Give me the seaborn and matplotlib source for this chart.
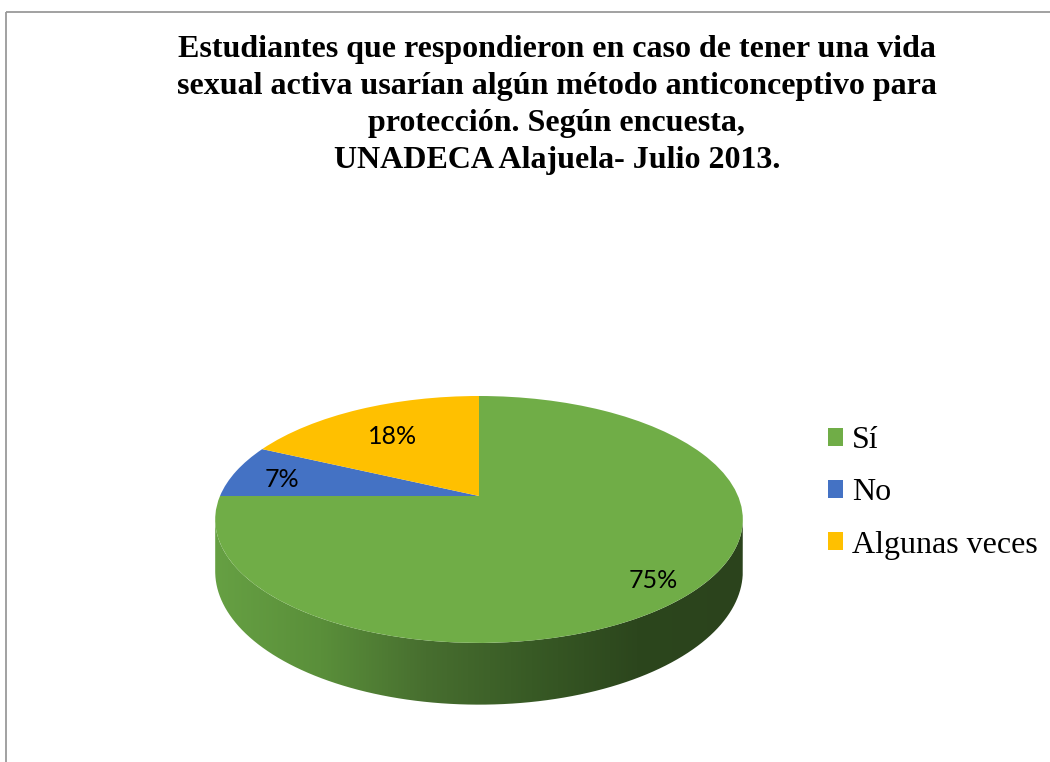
import numpy as np
import matplotlib
matplotlib.use("Agg")
import matplotlib.pyplot as plt
import matplotlib.transforms as mtransforms
from matplotlib.path import Path
from matplotlib.patches import PathPatch, Rectangle
from matplotlib.colors import LinearSegmentedColormap
import seaborn as sns

# ---- data -------------------------------------------------------------
categories = ["Sí", "No", "Algunas veces"]
percentages = [75, 7, 18]
slice_colors = ["#70AD47", "#4472C4", "#FFC000"]
title_text = ("Estudiantes que respondieron en caso de tener una vida\n"
              "sexual activa usarían algún método anticonceptivo para\n"
              "protección. Según encuesta,\n"
              "UNADECA Alajuela- Julio 2013.")

# radial placement of each percentage label (fraction of the radius)
label_radius = [0.84, 0.80, 0.69]

# ---- style ------------------------------------------------------------
sns.set_theme(style="white")
plt.rcParams["font.family"] = ["Liberation Serif", "DejaVu Serif"]
plt.rcParams["text.color"] = "black"

W, H = 1050, 762
fig = plt.figure(figsize=(W / 100, H / 100), dpi=100)
ax = fig.add_axes([0, 0, 1, 1])


class TiltTransform(mtransforms.Transform):
    """Perspective tilt of the unit pie: far side (v>0) shrinks, near side grows."""
    input_dims = 2
    output_dims = 2

    def __init__(self, k):
        super().__init__()
        self.k = k

    def transform_non_affine(self, values):
        values = np.asarray(values, dtype=float)
        u, v = values[..., 0], values[..., 1]
        s = 1.0 / (1.0 + self.k * v)
        return np.stack([u * s, v * s], axis=-1)


# pie geometry in pixel space (y grows downward)
K = 0.19
CX, CY = 479.0, 496.0
RX, RY = 259.0, 119.0
DEPTH = 50.0

tilt = TiltTransform(K)
to_pixels = mtransforms.Affine2D().scale(RX, -RY).translate(CX, CY)

# ---- pie top face ----------------------------------------------------
wedges, _, autotexts = ax.pie(
    percentages,
    colors=slice_colors,
    startangle=90,
    counterclock=False,
    autopct=lambda p: f"{p:.0f}%",
    pctdistance=0.77,
    wedgeprops=dict(linewidth=0, antialiased=True),
    textprops=dict(fontsize=18, color="black", family=["Lato", "DejaVu Sans"]),
)
proj = tilt + to_pixels + ax.transData
for w, t, r in zip(wedges, autotexts, label_radius):
    w.set_transform(proj)
    w.set_zorder(3)
    mid = np.deg2rad(0.5 * (w.theta1 + w.theta2))
    t.set_position((r * np.cos(mid), r * np.sin(mid) - 0.03))
    t.set_transform(proj)
    t.set_zorder(4)

ax.set_aspect("auto")
ax.set_xlim(0, W)
ax.set_ylim(H, 0)
ax.axis("off")

# ---- side wall (front half of the disc, shaded) ----------------------
theta_l = np.pi + np.arcsin(K)
theta_r = 2 * np.pi - np.arcsin(K)
th = np.linspace(theta_l, theta_r, 200)
uv = np.column_stack([np.cos(th), np.sin(th)])
top_edge = to_pixels.transform(tilt.transform(uv))
drop = DEPTH / (1.0 + K * uv[:, 1])
bottom_edge = top_edge.copy()
bottom_edge[:, 1] += drop
wall_xy = np.vstack([top_edge, bottom_edge[::-1]])
wall_path = Path(wall_xy, closed=False)
wall_patch = PathPatch(wall_path, facecolor="none", edgecolor="none",
                       transform=ax.transData)
ax.add_patch(wall_patch)

wall_cmap = LinearSegmentedColormap.from_list(
    "wall", ["#66a043", "#5a8f3a", "#476e2f", "#385a25", "#2c461d", "#2b431c"])
x0, x1 = wall_xy[:, 0].min(), wall_xy[:, 0].max()
y0, y1 = wall_xy[:, 1].min(), wall_xy[:, 1].max()
grad = np.linspace(0, 1, 256)[None, :]
im = ax.imshow(grad, cmap=wall_cmap, aspect="auto",
               extent=(x0, x1, y1, y0), zorder=2, interpolation="bilinear")
im.set_clip_path(wall_patch)
ax.set_xlim(0, W)
ax.set_ylim(H, 0)

# ---- title ----------------------------------------------------------
fig.text(557 / W, 1 - 35 / H, title_text, ha="center", va="top",
         fontsize=23, fontweight="bold", linespacing=1.36, color="black",
         family=["Liberation Serif", "DejaVu Serif"])

# ---- legend -----------------------------------------------------------
leg = ax.legend(wedges, categories, loc="center left",
                bbox_to_anchor=(828 / W, 1 - 493 / H),
                bbox_transform=fig.transFigure,
                frameon=False, labelcolor="black",
                prop=dict(family=["Liberation Serif", "DejaVu Serif"], size=23),
                handlelength=0.47, handleheight=0.47, handletextpad=0.28,
                labelspacing=0.72, borderpad=0.0, borderaxespad=0.0)

# ---- chart border ----------------------------------------------------
ax.add_patch(Rectangle((5.5, 11.5), W + 20, H + 20, facecolor="none",
                       edgecolor="#9a9a9a", linewidth=1.3, zorder=1,
                       clip_on=False))

fig.savefig("out.png", dpi=100, facecolor="white")
